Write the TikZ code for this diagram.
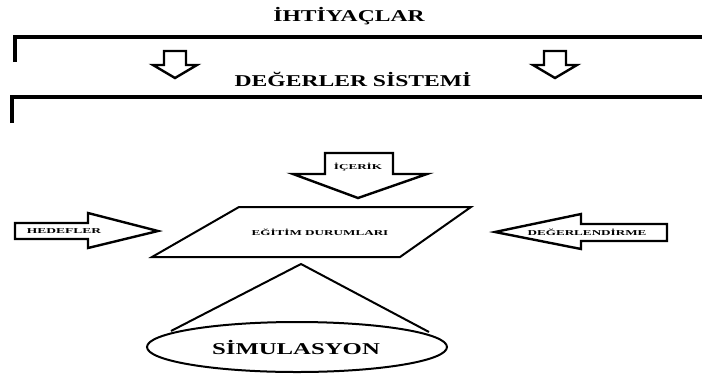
\documentclass[tikz,border=0pt]{standalone}
\usepackage{graphicx}
\usepackage{fontspec}
\setmainfont{Liberation Serif}
\newcommand{\stretchtext}[2]{\scalebox{#1}[1]{#2}}
\tikzset{
  rule/.style={line width=3.2pt, line cap=butt, line join=miter},
  blockarrow/.style={draw, line width=2.4pt, fill=white, line join=miter},
  thinshape/.style={draw, line width=2pt, line join=miter},
  headline/.style={inner sep=0pt, font=\bfseries\fontsize{16.5}{16.5}\selectfont},
  smalllabel/.style={inner sep=0pt, font=\bfseries\fontsize{7.5}{7.5}\selectfont},
  biglabel/.style={inner sep=0pt, font=\bfseries\fontsize{16.5}{16.5}\selectfont},
}
\begin{document}
\begin{tikzpicture}[x=1pt,y=-1pt]
\useasboundingbox (0,0) rectangle (702,376);

% needs and the value system
\node[headline] (needs) at (349,16) {\stretchtext{1.43}{İHTİYAÇLAR}};
\draw[rule] (15,62) -- (15,37) -- (702,37);
\draw[blockarrow] (164,51) -- (186,51) -- (186,65) -- (197,65) -- (175,78) -- (153,65) -- (164,65) -- cycle;
\draw[blockarrow] (544,51) -- (566,51) -- (566,65) -- (577,65) -- (555,78) -- (533,65) -- (544,65) -- cycle;
\node[headline] (values) at (353,79) {\stretchtext{1.43}{DEĞERLER SİSTEMİ}};
\draw[rule] (12,123) -- (12,97) -- (702,97);

% content arrow
\draw[blockarrow] (325,153) -- (393,153) -- (393,174) -- (427,174) -- (358,198) -- (293,174) -- (325,174) -- cycle;
\node[smalllabel] (content) at (358,167) {\stretchtext{1.75}{İÇERİK}};

% learning situations
\draw[thinshape] (239,207) -- (471,207) -- (400,257) -- (152,257) -- cycle;
\node[smalllabel] (situations) at (320,232) {\stretchtext{1.75}{EĞİTİM DURUMLARI}};

% objectives arrow
\draw[blockarrow] (15,223) -- (88,223) -- (88,213) -- (158,231) -- (88,248) -- (88,239) -- (15,239) -- cycle;
\node[smalllabel] (objectives) at (64,231) {\stretchtext{1.8}{HEDEFLER}};

% evaluation arrow
\draw[blockarrow] (667,224) -- (581,224) -- (581,214) -- (495,232) -- (581,249) -- (581,241) -- (667,241) -- cycle;
\node[smalllabel] (evaluation) at (587,232) {\stretchtext{1.75}{DEĞERLENDİRME}};

% simulation cone
\coordinate (apex) at (301,264);
\coordinate (baseL) at (171,331);
\coordinate (baseR) at (429,332);
\draw[thinshape] (baseL) -- (apex) -- (baseR);
\draw[thinshape] (297,347) ellipse [x radius=150, y radius=25];
\node[biglabel] (simulation) at (296,348) {\stretchtext{1.5}{SİMULASYON}};
\end{tikzpicture}
\end{document}
